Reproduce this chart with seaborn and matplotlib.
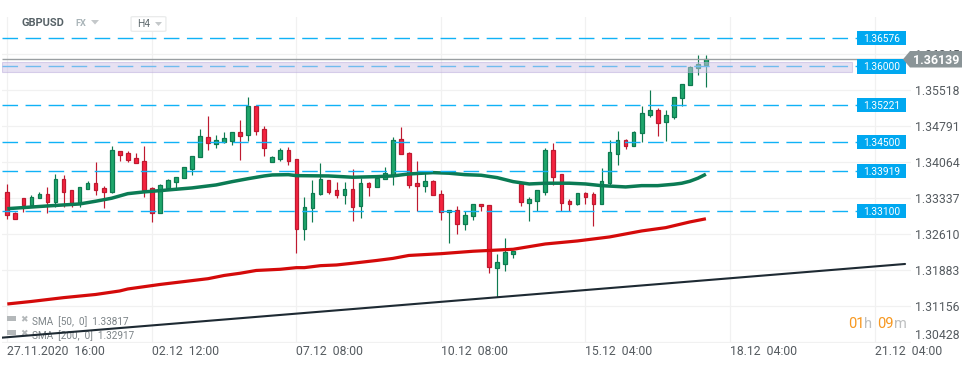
import matplotlib
matplotlib.use("Agg")
import matplotlib.pyplot as plt
from matplotlib.patches import Polygon, Rectangle, FancyBboxPatch
import pandas as pd
import seaborn as sns

# Candles (H4 bars)
opens = [1.33453, 1.33029, 1.33332, 1.33202, 1.33332, 1.33412, 1.33263, 1.33715, 1.33493, 1.33231,
         1.33525, 1.33635, 1.33534, 1.33465, 1.34281, 1.34241, 1.34140, 1.34079, 1.33534, 1.33041,
         1.33546, 1.33667, 1.33736, 1.33929, 1.34160, 1.34564, 1.34434, 1.34475, 1.34495, 1.34665,
         1.34616, 1.35190, 1.34725, 1.34071, 1.34131, 1.34301, 1.34119, 1.32705, 1.33130, 1.33412,
         1.33695, 1.33493, 1.33392, 1.33513, 1.33182, 1.33635, 1.33554, 1.33715, 1.33796, 1.34523,
         1.34241, 1.33635, 1.33574, 1.33675, 1.33412, 1.33049, 1.33089, 1.32806, 1.32968, 1.33210,
         1.33190, 1.31930, 1.32010, 1.32212, 1.33620, 1.33243, 1.33283, 1.33465, 1.34301, 1.33816,
         1.33271, 1.33222, 1.33433, 1.33412, 1.33222, 1.33647, 1.34232, 1.34503, 1.34394, 1.34645,
         1.35020, 1.35109, 1.34879, 1.34980, 1.35364, 1.35614, 1.35958, 1.36018]
closes = [1.33000, 1.32919, 1.33202, 1.33352, 1.33412, 1.33263, 1.33715, 1.33465, 1.33231, 1.33554,
          1.33635, 1.33505, 1.33465, 1.34301, 1.34212, 1.34111, 1.34051, 1.33505, 1.33041, 1.33594,
          1.33695, 1.33756, 1.33958, 1.34180, 1.34584, 1.34443, 1.34503, 1.34544, 1.34665, 1.34596,
          1.35190, 1.34697, 1.34354, 1.34160, 1.34301, 1.34091, 1.32705, 1.33150, 1.33433, 1.33715,
          1.33465, 1.33392, 1.33513, 1.33162, 1.33635, 1.33554, 1.33736, 1.33837, 1.34503, 1.34220,
          1.33606, 1.33574, 1.33675, 1.33392, 1.33049, 1.33089, 1.32806, 1.32988, 1.33210, 1.33170,
          1.31950, 1.32039, 1.32241, 1.32261, 1.33263, 1.33311, 1.33493, 1.34301, 1.33768, 1.33243,
          1.33222, 1.33433, 1.33364, 1.33222, 1.33675, 1.34261, 1.34503, 1.34394, 1.34665, 1.35049,
          1.35109, 1.34847, 1.35008, 1.35372, 1.35634, 1.35978, 1.36038, 1.36139]
highs = [1.33620, 1.33055, 1.33338, 1.33398, 1.33459, 1.33560, 1.33822, 1.33802, 1.33499, 1.33560,
         1.33681, 1.34065, 1.33580, 1.34388, 1.34287, 1.34287, 1.34247, 1.34388, 1.33560, 1.33620,
         1.33721, 1.33762, 1.33964, 1.34186, 1.34731, 1.34994, 1.34610, 1.34671, 1.34671, 1.34913,
         1.35378, 1.35196, 1.34792, 1.34186, 1.34348, 1.34368, 1.34125, 1.33358, 1.33701, 1.34045,
         1.33701, 1.33661, 1.33661, 1.33923, 1.33742, 1.33661, 1.33802, 1.33964, 1.34570, 1.34772,
         1.34267, 1.34085, 1.33883, 1.33701, 1.33499, 1.33095, 1.33176, 1.33075, 1.33216, 1.33216,
         1.33196, 1.32206, 1.32530, 1.32267, 1.33641, 1.33358, 1.33499, 1.34348, 1.34449, 1.33822,
         1.33317, 1.33439, 1.33459, 1.33459, 1.33944, 1.34509, 1.34691, 1.34529, 1.34691, 1.35196,
         1.35519, 1.35156, 1.35115, 1.35378, 1.35640, 1.36004, 1.36226, 1.36226]
lows = [1.32913, 1.32913, 1.33055, 1.33196, 1.33332, 1.33035, 1.33156, 1.33156, 1.33156, 1.33156,
        1.33519, 1.33398, 1.33136, 1.33439, 1.34085, 1.34065, 1.34045, 1.33358, 1.32853, 1.33035,
        1.33499, 1.33499, 1.33736, 1.33802, 1.34160, 1.34307, 1.34348, 1.34449, 1.34408, 1.34105,
        1.34489, 1.34610, 1.34186, 1.34065, 1.34085, 1.34004, 1.32227, 1.32489, 1.32853, 1.33398,
        1.33418, 1.33338, 1.33216, 1.32873, 1.32934, 1.33378, 1.33554, 1.33715, 1.33600, 1.34220,
        1.33540, 1.33075, 1.33459, 1.33392, 1.32893, 1.32429, 1.32610, 1.32691, 1.32893, 1.33075,
        1.31823, 1.31338, 1.31863, 1.32126, 1.33176, 1.32873, 1.33075, 1.33398, 1.33600, 1.33075,
        1.33075, 1.33196, 1.33216, 1.32772, 1.33216, 1.33580, 1.34004, 1.34327, 1.34388, 1.34469,
        1.34974, 1.34590, 1.34489, 1.34933, 1.35196, 1.35614, 1.35822, 1.35580]

# Moving averages
sma50_idx = [0, 5, 9, 11, 13, 15, 17, 19, 21, 23, 26, 28, 30, 32, 33, 35, 36, 40, 43, 46, 48, 50, 53, 55,
             57, 59, 61, 63, 65, 67, 70, 72, 74, 77, 79, 81, 83, 84, 85, 86, 87]
sma50_vals = [1.33121, 1.33176, 1.33216, 1.33271, 1.33332, 1.33424, 1.33459, 1.33485, 1.33513, 1.33540,
              1.33600, 1.33667, 1.33727, 1.33782, 1.33802, 1.33808, 1.33788, 1.33782, 1.33756, 1.33768,
              1.33782, 1.33822, 1.33849, 1.33837, 1.33808, 1.33796, 1.33748, 1.33667, 1.33620, 1.33635,
              1.33635, 1.33620, 1.33586, 1.33560, 1.33586, 1.33586, 1.33614, 1.33635, 1.33675, 1.33736,
              1.33817]
sma200_idx = [0, 3, 7, 11, 14, 15, 19, 25, 27, 29, 31, 34, 36, 37, 39, 41, 43, 46, 48, 50, 54, 58, 60, 63,
              67, 71, 75, 79, 82, 85, 87]
sma200_vals = [1.31196, 1.31247, 1.31324, 1.31388, 1.31459, 1.31499, 1.31590, 1.31707, 1.31772, 1.31817,
               1.31873, 1.31897, 1.31930, 1.31930, 1.31970, 1.31984, 1.32019, 1.32075, 1.32116, 1.32176,
               1.32212, 1.32261, 1.32277, 1.32301, 1.32408, 1.32469, 1.32550, 1.32671, 1.32738, 1.32853,
               1.32917]

# Trend line, two ends
trend_idx = [-0.66, 111.8]
trend_vals = [1.30516, 1.32004]

# Price levels: labels as printed, heights as they sit in the picture
level_labels = ["1.36576", "1.36000", "1.35221", "1.34500", "1.33919", "1.33100"]
level_vals = [1.36570, 1.35994, 1.35216, 1.34469, 1.33883, 1.33075]
band = [1.35889, 1.36079]
last_price = 1.36139

# Axis ticks
y_ticks = [1.30428, 1.31156, 1.31883, 1.32610, 1.33337, 1.34064, 1.34791, 1.35518, 1.36245]
x_ticks = [0, 18, 36, 54, 72, 90, 108]
x_labels = ["27.11.2020  16:00", "02.12  12:00", "07.12  08:00", "10.12  08:00",
            "15.12  04:00", "18.12  04:00", "21.12  04:00"]

GREEN, GREEN_EDGE = "#1FA76C", "#0E7A50"
RED, RED_EDGE = "#F5233F", "#BE1A30"
SKY = "#10B2F6"
W, H = 974, 368

sns.set_style("white")
plt.rcParams["font.family"] = ["Roboto", "DejaVu Sans"]

fig = plt.figure(figsize=(W / 100, H / 100), dpi=100)
ax = fig.add_axes([2 / W, 1 - 343 / H, 909 / W, 326 / H])
ax.set_xlim(-0.66, 112.54)
ax.set_ylim(1.30408, 1.36992)
sns.despine(ax=ax, left=True, bottom=True, right=True, top=True)


def px(x, y):
    return x / W, 1 - y / H


# Grid and ticks
ax.yaxis.tick_right()
ax.set_yticks(y_ticks, [f"{v:.5f}" for v in y_ticks])
ax.set_xticks(x_ticks, x_labels)
ax.grid(True, color="#F1F1F1", linewidth=0.9, zorder=0)
ax.set_axisbelow(True)
ax.tick_params(axis="y", length=0, pad=3, labelsize=8.8, labelcolor="#555B60")
ax.tick_params(axis="x", length=0, pad=1.5, labelsize=8.8, labelcolor="#555B60")
for t in ax.get_xticklabels():
    t.set_ha("left")
ax.get_yticklabels()[0].set_va("bottom")

# Candles
candles = pd.DataFrame({"open": opens, "close": closes, "high": highs, "low": lows})
candles["idx"] = candles.index
candles["up"] = candles["close"] >= candles["open"]
for up, face, edge in [(True, GREEN, GREEN_EDGE), (False, RED, RED_EDGE)]:
    part = candles[candles["up"] == up]
    ax.vlines(part["idx"], part["low"], part["high"], color=edge, linewidth=0.85, zorder=3)
    ax.bar(part["idx"], (part["close"] - part["open"]).abs(), bottom=part[["open", "close"]].min(axis=1),
           width=0.46, color=face, edgecolor=edge, linewidth=0.9, zorder=3.1)

# Lines
sns.lineplot(x=sma200_idx, y=sma200_vals, ax=ax, color="#D40A0A", linewidth=2.3, zorder=4,
             estimator=None, solid_capstyle="butt")
sns.lineplot(x=sma50_idx, y=sma50_vals, ax=ax, color="#0B7B54", linewidth=2.5, zorder=4,
             estimator=None, solid_capstyle="butt")
sns.lineplot(x=trend_idx, y=trend_vals, ax=ax, color="#1E2A33", linewidth=1.5, zorder=4.2, estimator=None)

# Levels
ax.hlines(level_vals, -0.66, 105.8, color=SKY, linewidth=1.0, linestyles=[(0, (11.2, 5.4))], zorder=4.5)
ax.barh(level_vals, [6.1] * len(level_vals), left=105.8, height=0.00297, color="#00A8F0", linewidth=0, zorder=7)
for v, label in zip(level_vals, level_labels):
    ax.text(108.85, v, label, color="white", fontsize=7.3, ha="center", va="center_baseline", zorder=8)

# Purple band and last price line
ax.barh([sum(band) / 2], [105.9], left=-0.66, height=band[1] - band[0], color="#D1C5E7", edgecolor="#B9A9DC",
        linewidth=0.8, alpha=0.5, zorder=5)
ax.hlines(last_price, -0.66, 111.6, color="#9A9FA2", linewidth=1.0, zorder=5.5)

# Last price tag
fig.add_artist(Polygon([px(903, 59.3), px(910, 51), px(962, 51), px(962, 67.5), px(910, 67.5)],
                       closed=True, transform=fig.transFigure, facecolor="#8A9497", edgecolor="none"))
fig.text(*px(936, 60), f"{last_price:.5f}", color="white", fontsize=9, fontweight="bold", ha="center", va="center")

# Header
fig.text(*px(21, 23.5), "GBPUSD", color="#566166", fontsize=7.9, fontweight="bold", va="center")
fig.text(*px(75, 24), "FX", color="#A9B4B8", fontsize=6.6, fontweight="bold", va="center")
fig.add_artist(Polygon([px(91, 20), px(99, 20), px(95, 24.5)], transform=fig.transFigure, facecolor="#C4C8CA",
                       edgecolor="none"))
fig.add_artist(FancyBboxPatch(px(133, 31), 31 / W, 14 / H, boxstyle="round,pad=0.002,rounding_size=0.003",
                              transform=fig.transFigure, facecolor="white", edgecolor="#E6E8E8", linewidth=0.8,
                              mutation_aspect=H / W))
fig.text(*px(137, 24), "H4", color="#5F6A6E", fontsize=7.4, va="center")
fig.add_artist(Polygon([px(155, 22), px(162, 22), px(158.5, 26)], transform=fig.transFigure, facecolor="#C4C8CA",
                       edgecolor="none"))

# SMA legend, under the trend line
for y, label in [(322, "SMA  [50,  0]  1.33817"), (335.5, "SMA  [200,  0]  1.32917")]:
    ax.text(*px(32, y), label, transform=fig.transFigure, color="#7D8488", fontsize=7.2, va="center", zorder=1.5,
            clip_on=False)
    ax.add_patch(Rectangle(px(7, y - 1), 9 / W, 5 / H, transform=fig.transFigure, facecolor="#B4B8BA",
                           edgecolor="none", zorder=1.5, clip_on=False))
    ax.text(*px(24, y - 2), "\u2716", transform=fig.transFigure, color="#B4B8BA", fontsize=6.5, ha="center",
            va="center", zorder=1.5, clip_on=False, family="DejaVu Sans")

# Countdown
for x, txt, col in [(848, "01", "#F7971E"), (864, "h", "#BDBFC0"), (877, "09", "#F7971E"), (894, "m", "#BDBFC0")]:
    fig.text(*px(x, 323.5), txt, color=col, fontsize=10.5, va="center")

fig.savefig("out.png", dpi=100)
